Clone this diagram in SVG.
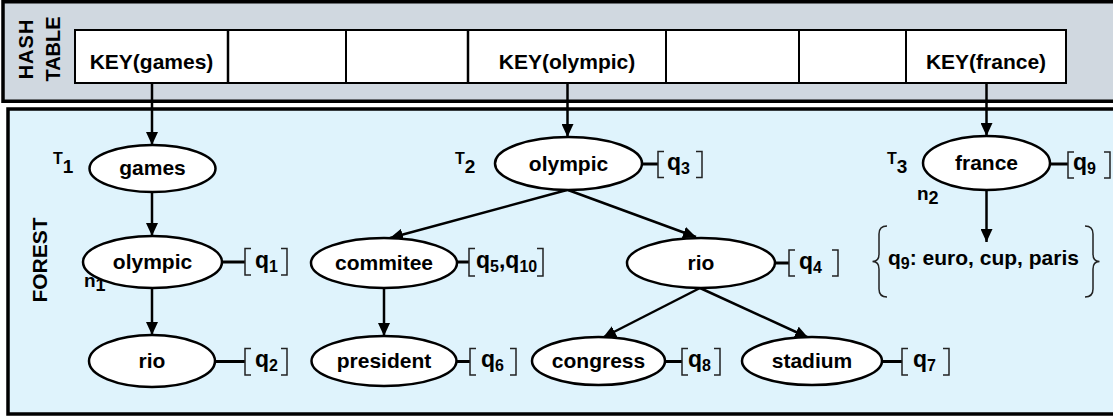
<svg xmlns="http://www.w3.org/2000/svg" width="1113" height="416" viewBox="0 0 1113 416">
  <defs>
    <marker id="arrow" markerUnits="userSpaceOnUse" markerWidth="14" markerHeight="12" refX="13" refY="6" orient="auto">
      <path d="M0,0 L13,6 L0,12 Z" fill="#000"/>
    </marker>
    <style>
      text { font-family: "Liberation Sans", Arial, Helvetica, sans-serif; font-weight: bold; fill: #000; }
      .panel { stroke: #000; stroke-width: 3.5; }
      .cell { fill: #fff; stroke: #000; stroke-width: 2; }
      .node ellipse { fill: #fff; stroke: #000; stroke-width: 2.5; }
      .node text { font-size: 21px; text-anchor: middle; }
      .edge { stroke: #000; stroke-width: 2.5; fill: none; marker-end: url(#arrow); }
      .tie { stroke: #000; stroke-width: 3; }
      .brk { stroke: #222; stroke-width: 1.5; fill: none; }
      .ql { font-size: 23px; }
      .sub { font-size: 16px; }
      .key { font-size: 21px; text-anchor: middle; }
      .side { font-size: 20px; text-anchor: middle; }
    </style>
  </defs>

  <!-- hash table panel -->
  <g id="hash-table">
    <rect class="panel" x="3" y="1.75" width="1120" height="99.5" fill="#d0d8e0"/>
    <text class="side" transform="translate(33,49) rotate(-90)" letter-spacing="1">HASH</text>
    <text class="side" transform="translate(60,49) rotate(-90)">TABLE</text>
    <rect class="cell" x="75" y="30" width="991" height="53"/>
    <g stroke="#000" stroke-width="2.5">
      <line x1="228" y1="30" x2="228" y2="83"/>
      <line x1="346" y1="30" x2="346" y2="83" stroke-width="2"/>
      <line x1="468" y1="30" x2="468" y2="83"/>
      <line x1="666" y1="30" x2="666" y2="83" stroke-width="2"/>
      <line x1="799" y1="30" x2="799" y2="83" stroke-width="2"/>
      <line x1="906" y1="30" x2="906" y2="83" stroke-width="2"/>
    </g>
    <text class="key" x="151.5" y="68.5">KEY(games)</text>
    <text class="key" x="567" y="68.5">KEY(olympic)</text>
    <text class="key" x="986" y="68.5">KEY(france)</text>
  </g>

  <!-- forest panel -->
  <g id="forest">
    <rect class="panel" x="8" y="109" width="1115" height="305" fill="#dff3fc"/>
    <text class="side" style="font-size:21px" transform="translate(47,260) rotate(-90)">FOREST</text>
  </g>

  <!-- tree labels -->
  <g id="tree-labels">
    <text x="53" y="164" style="font-size:16px">T<tspan style="font-size:19px" dy="9">1</tspan></text>
    <text x="455" y="164" style="font-size:16px">T<tspan style="font-size:19px" dy="9">2</tspan></text>
    <text x="887" y="164" style="font-size:16px">T<tspan style="font-size:19px" dy="9">3</tspan></text>
    <text x="84" y="287" style="font-size:19px">n<tspan style="font-size:18px" dy="4">1</tspan></text>
    <text x="917" y="200" style="font-size:19px">n<tspan style="font-size:18px" dy="4">2</tspan></text>
  </g>

  <!-- connectors -->
  <g id="connectors">
    <line class="edge" x1="152" y1="83" x2="152" y2="145"/>
    <line class="edge" x1="567.5" y1="83" x2="567.5" y2="137"/>
    <line class="edge" x1="986.5" y1="83" x2="986.5" y2="136"/>
    <line class="edge" x1="152" y1="192" x2="152" y2="236"/>
    <line class="edge" x1="152" y1="288" x2="152" y2="335"/>
    <line class="edge" x1="567" y1="190" x2="390" y2="238"/>
    <line class="edge" x1="568" y1="190" x2="696" y2="237"/>
    <line class="edge" x1="384" y1="288" x2="384" y2="336"/>
    <line class="edge" x1="700" y1="288" x2="603" y2="337.5"/>
    <line class="edge" x1="700" y1="288" x2="808" y2="337.5"/>
    <line class="edge" x1="986.5" y1="190" x2="986.5" y2="242"/>
  </g>

  <!-- tree nodes -->
  <g id="node-games" class="node">
    <ellipse cx="152.5" cy="168.5" rx="63" ry="23.5"/>
    <text x="152.5" y="175">games</text>
  </g>
  <g id="node-olympic-t1" class="node">
    <ellipse cx="152.5" cy="262" rx="69.5" ry="26"/>
    <text x="152.5" y="269">olympic</text>
  </g>
  <g id="node-rio-t1" class="node">
    <ellipse cx="152" cy="361" rx="63" ry="26"/>
    <text x="152" y="368">rio</text>
  </g>
  <g id="node-olympic-t2" class="node">
    <ellipse cx="568.5" cy="163.5" rx="73.5" ry="26.5"/>
    <text x="568.5" y="170.5">olympic</text>
  </g>
  <g id="node-commitee" class="node">
    <ellipse cx="384" cy="263" rx="73" ry="25"/>
    <text x="384" y="270">commitee</text>
  </g>
  <g id="node-rio-t2" class="node">
    <ellipse cx="701" cy="263" rx="74" ry="25"/>
    <text x="701" y="270">rio</text>
  </g>
  <g id="node-president" class="node">
    <ellipse cx="384" cy="361" rx="72.5" ry="25"/>
    <text x="384" y="368">president</text>
  </g>
  <g id="node-congress" class="node">
    <ellipse cx="598.5" cy="361" rx="66.5" ry="24"/>
    <text x="598.5" y="368">congress</text>
  </g>
  <g id="node-stadium" class="node">
    <ellipse cx="812" cy="361" rx="70" ry="24"/>
    <text x="812" y="368">stadium</text>
  </g>
  <g id="node-france" class="node">
    <ellipse cx="986.5" cy="163" rx="63.5" ry="27"/>
    <text x="986.5" y="170">france</text>
  </g>

  <!-- query lists attached to nodes -->
  <g id="q-olympic-t1">
    <line class="tie" x1="222" y1="262" x2="245" y2="262"/>
    <path class="brk" d="M251,248.5 H245 V275 H251 M281,248.5 H287 V275 H281"/>
    <text x="255" y="267.5"><tspan class="ql">q</tspan><tspan class="sub" dy="4">1</tspan></text>
  </g>
  <g id="q-rio-t1">
    <line class="tie" x1="215" y1="361.5" x2="245" y2="361.5"/>
    <path class="brk" d="M251,348.5 H245 V375 H251 M281,348.5 H287 V375 H281"/>
    <text x="255" y="367"><tspan class="ql">q</tspan><tspan class="sub" dy="4">2</tspan></text>
  </g>
  <g id="q-olympic-t2">
    <line class="tie" x1="642" y1="164" x2="658" y2="164"/>
    <path class="brk" d="M664,151.5 H658 V177.5 H664 M696,151.5 H702 V177.5 H696"/>
    <text x="667" y="169.5"><tspan class="ql">q</tspan><tspan class="sub" dy="4">3</tspan></text>
  </g>
  <g id="q-commitee">
    <line class="tie" x1="457" y1="262" x2="469" y2="262"/>
    <path class="brk" d="M475,248.5 H469 V276 H475 M537,248.5 H543 V276 H537"/>
    <text x="476" y="267.5"><tspan class="ql">q</tspan><tspan class="sub" dy="4">5</tspan><tspan class="ql" dy="-4">,q</tspan><tspan class="sub" dy="4">10</tspan></text>
  </g>
  <g id="q-president">
    <line class="tie" x1="456" y1="361.5" x2="470" y2="361.5"/>
    <path class="brk" d="M476,348.5 H470 V375 H476 M510,348.5 H516 V375 H510"/>
    <text x="481" y="367"><tspan class="ql">q</tspan><tspan class="sub" dy="4">6</tspan></text>
  </g>
  <g id="q-congress">
    <line class="tie" x1="664" y1="361.5" x2="682" y2="361.5"/>
    <path class="brk" d="M688,348.5 H682 V375 H688 M714,348.5 H720 V375 H714"/>
    <text x="688" y="367"><tspan class="ql">q</tspan><tspan class="sub" dy="4">8</tspan></text>
  </g>
  <g id="q-rio-t2">
    <line class="tie" x1="775" y1="263" x2="789" y2="263"/>
    <path class="brk" d="M795,250 H789 V276 H795 M832,250 H838 V276 H832"/>
    <text x="799" y="268.5"><tspan class="ql">q</tspan><tspan class="sub" dy="4">4</tspan></text>
  </g>
  <g id="q-stadium">
    <line class="tie" x1="882" y1="361.5" x2="902" y2="361.5"/>
    <path class="brk" d="M908,348.5 H902 V375 H908 M943,348.5 H949 V375 H943"/>
    <text x="913" y="367"><tspan class="ql">q</tspan><tspan class="sub" dy="4">7</tspan></text>
  </g>
  <g id="q-france">
    <line class="tie" x1="1050" y1="164" x2="1068" y2="164"/>
    <path class="brk" d="M1074,152 H1068 V178 H1074 M1104,152 H1110 V178 H1104"/>
    <text x="1073" y="169.5"><tspan class="ql">q</tspan><tspan class="sub" dy="4">9</tspan></text>
  </g>

  <!-- keyword set of q9 -->
  <g id="q9-keywords">
    <path class="brk" d="M887,226 Q879,226 879,234 V254 Q879,261.5 872.5,261.5 Q879,261.5 879,269 V289 Q879,297 887,297"/>
    <path class="brk" d="M1085,226 Q1093,226 1093,234 V254 Q1093,261.5 1099.5,261.5 Q1093,261.5 1093,269 V289 Q1093,297 1085,297"/>
    <text x="888" y="265" style="font-size:21px">q<tspan class="sub" dy="4">9</tspan><tspan dy="-4">: euro, cup, paris</tspan></text>
  </g>
</svg>
